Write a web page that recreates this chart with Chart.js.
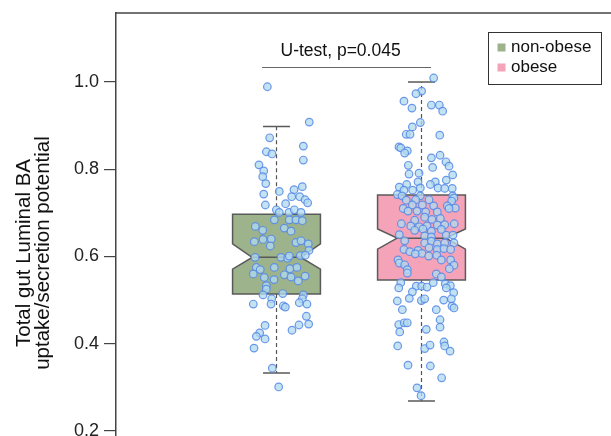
<!DOCTYPE html>
<html>
<head>
<meta charset="utf-8">
<script src="https://cdn.jsdelivr.net/npm/chart.js@4"></script>
<style>
  body { margin: 0; background: #fff; }
  canvas { display: block; }
</style>
</head>
<body>
<canvas id="chart" width="611" height="436"></canvas>
<script>
const groups = ['non-obese', 'obese'];
const boxColors = ['#9db38b', '#f4a3b8'];

// box summary
const boxQ1 = [0.514, 0.546];
const boxMedian = [0.598, 0.642];
const boxQ3 = [0.697, 0.741];
const notchLow = [0.571, 0.617];
const notchHigh = [0.629, 0.663];
const whiskerLow = [0.333, 0.269];
const whiskerHigh = [0.898, 1.0];

const yTicks = [0.2, 0.4, 0.6, 0.8, 1.0];
const yTitle = ['Total gut Luminal BA', 'uptake/secretion potential'];
const testLabel = 'U-test, p=0.045';

const nonObeseValues = [0.989,0.908,0.872,0.853,0.840,0.835,0.821,0.810,0.796,0.783,
  0.767,0.760,0.749,0.753,0.743,0.737,0.737,0.730,0.723,0.718,
  0.721,0.707,0.701,0.701,0.707,0.701,0.684,0.684,0.684,0.682,
  0.669,0.660,0.665,0.658,0.634,0.639,0.640,0.624,0.632,0.636,
  0.629,0.614,0.602,0.603,0.598,0.598,0.596,0.601,0.575,0.570,
  0.575,0.572,0.575,0.560,0.552,0.547,0.558,0.553,0.544,0.555,
  0.533,0.525,0.512,0.515,0.503,0.491,0.512,0.503,0.494,0.491,
  0.491,0.487,0.484,0.463,0.445,0.443,0.431,0.442,0.425,0.417,
  0.411,0.390,0.344,0.301];
const nonObeseJitter = [-0.063,0.226,-0.047,0.185,-0.070,-0.031,0.185,-0.121,-0.088,-0.095,
  -0.074,0.178,0.019,0.121,-0.088,0.105,0.160,0.197,0.215,-0.077,
  0.063,-0.001,0.019,0.086,0.123,0.169,-0.015,0.088,0.134,0.178,
  -0.146,-0.095,0.054,0.100,-0.153,-0.093,-0.036,-0.043,0.134,0.169,
  0.219,0.224,0.164,0.199,-0.148,0.031,0.077,0.088,-0.139,-0.112,
  -0.015,0.093,0.141,-0.160,-0.084,-0.017,0.054,0.100,0.150,0.197,
  -0.070,-0.070,-0.093,0.043,-0.033,-0.038,0.185,0.178,0.157,0.210,
  -0.160,0.047,0.061,0.206,0.222,0.155,0.107,-0.079,-0.116,-0.139,
  -0.079,-0.155,-0.029,0.015];

const obeseValues = [1.009,0.979,0.973,0.956,0.940,0.947,0.947,0.933,0.907,0.897,
  0.880,0.880,0.878,0.851,0.849,0.842,0.837,0.832,0.826,0.817,
  0.807,0.809,0.804,0.789,0.791,0.787,0.775,0.771,0.771,0.765,
  0.765,0.759,0.757,0.757,0.756,0.752,0.752,0.756,0.742,0.739,
  0.739,0.739,0.734,0.729,0.730,0.730,0.727,0.710,0.718,0.718,
  0.716,0.716,0.711,0.704,0.704,0.702,0.702,0.710,0.675,0.683,
  0.690,0.685,0.687,0.670,0.668,0.670,0.672,0.673,0.675,0.660,
  0.663,0.658,0.662,0.650,0.647,0.645,0.649,0.649,0.636,0.631,
  0.635,0.629,0.631,0.631,0.616,0.611,0.614,0.607,0.620,0.616,
  0.618,0.616,0.606,0.601,0.603,0.592,0.592,0.592,0.585,0.581,
  0.580,0.570,0.572,0.562,0.560,0.553,0.540,0.528,0.532,0.532,
  0.530,0.540,0.537,0.533,0.528,0.519,0.517,0.504,0.499,0.503,
  0.500,0.503,0.498,0.486,0.482,0.478,0.478,0.455,0.444,0.448,
  0.448,0.427,0.433,0.438,0.404,0.395,0.383,0.395,0.389,0.397,
  0.351,0.349,0.322,0.299,0.281];
const obeseJitter = [0.084,0.001,-0.038,-0.121,-0.066,0.068,0.123,0.146,-0.008,-0.063,
  -0.105,-0.079,0.126,-0.155,-0.143,-0.098,-0.116,0.128,0.068,0.169,
  0.190,-0.091,0.077,-0.086,-0.017,0.215,0.171,-0.024,0.095,0.061,
  -0.102,-0.153,-0.008,0.114,0.212,-0.121,-0.061,0.160,-0.167,-0.134,
  -0.008,0.215,0.224,-0.105,-0.040,0.052,0.208,-0.126,-0.063,0.006,
  0.084,0.178,0.233,-0.093,-0.031,0.029,0.109,0.190,-0.139,-0.047,
  0.022,0.072,0.130,-0.074,-0.015,0.038,0.109,0.160,0.226,-0.047,
  0.010,0.068,0.137,-0.153,0.022,0.068,0.171,0.217,-0.116,0.022,
  0.068,0.109,0.160,0.224,-0.121,-0.081,-0.024,0.003,0.052,0.109,
  0.155,0.201,-0.043,0.050,0.105,0.137,0.201,-0.162,-0.153,-0.116,
  0.224,-0.098,0.192,-0.098,0.102,0.137,-0.143,-0.157,-0.036,0.001,
  0.038,0.081,0.164,0.199,0.171,-0.063,0.222,-0.084,-0.001,0.022,
  0.153,0.206,-0.167,0.210,0.224,-0.132,0.102,0.128,-0.157,-0.119,
  -0.098,-0.150,0.033,0.128,0.155,0.160,0.197,-0.164,0.022,0.059,
  -0.093,0.061,0.139,-0.031,-0.003];

const FONT = '"Liberation Sans", Arial, Helvetica, sans-serif';
const EDGE = '#5a5a5a';
const BOX_HALF = 0.303;   // in category units
const NOTCH_IN = 0.135;
const CAP_HALF = 0.093;

function toPoints(values, jitter, pos) {
  return values.map((v, i) => ({ x: pos + jitter[i], y: v }));
}

// boxes, whiskers and caps under the points
const boxPlugin = {
  id: 'boxes',
  beforeDatasetsDraw(chart) {
    const { ctx, scales: { x, y } } = chart;
    ctx.save();
    groups.forEach((g, i) => {
      const l = x.getPixelForValue(i - BOX_HALF);
      const r = x.getPixelForValue(i + BOX_HALF);
      const li = x.getPixelForValue(i - BOX_HALF + NOTCH_IN);
      const ri = x.getPixelForValue(i + BOX_HALF - NOTCH_IN);
      const cx = x.getPixelForValue(i);
      const q1 = y.getPixelForValue(boxQ1[i]);
      const q3 = y.getPixelForValue(boxQ3[i]);
      const med = y.getPixelForValue(boxMedian[i]);
      const nl = y.getPixelForValue(notchLow[i]);
      const nh = y.getPixelForValue(notchHigh[i]);

      // whiskers
      ctx.strokeStyle = '#555';
      ctx.lineWidth = 1.2;
      ctx.setLineDash([4, 3]);
      ctx.beginPath();
      ctx.moveTo(cx, q3);
      ctx.lineTo(cx, y.getPixelForValue(whiskerHigh[i]));
      ctx.moveTo(cx, q1);
      ctx.lineTo(cx, y.getPixelForValue(whiskerLow[i]));
      ctx.stroke();
      ctx.setLineDash([]);
      ctx.lineWidth = 1.5;
      ctx.strokeStyle = EDGE;
      ctx.beginPath();
      [whiskerHigh[i], whiskerLow[i]].forEach(w => {
        const wy = y.getPixelForValue(w);
        ctx.moveTo(x.getPixelForValue(i - CAP_HALF), wy);
        ctx.lineTo(x.getPixelForValue(i + CAP_HALF), wy);
      });
      ctx.stroke();

      // notched box
      ctx.beginPath();
      ctx.moveTo(l, q3);
      ctx.lineTo(r, q3);
      ctx.lineTo(r, nh);
      ctx.lineTo(ri, med);
      ctx.lineTo(r, nl);
      ctx.lineTo(r, q1);
      ctx.lineTo(l, q1);
      ctx.lineTo(l, nl);
      ctx.lineTo(li, med);
      ctx.lineTo(l, nh);
      ctx.closePath();
      ctx.fillStyle = boxColors[i];
      ctx.fill();
      ctx.stroke();

      ctx.beginPath();
      ctx.moveTo(li, med);
      ctx.lineTo(ri, med);
      ctx.stroke();
    });
    ctx.restore();
  },
  afterDraw(chart) {
    const { ctx, chartArea, scales: { x } } = chart;
    ctx.save();
    // top frame line
    ctx.strokeStyle = '#444';
    ctx.lineWidth = 1.5;
    ctx.beginPath();
    ctx.moveTo(chartArea.left, chartArea.top);
    ctx.lineTo(chartArea.right, chartArea.top);
    ctx.stroke();

    // y axis title (two lines, rotated)
    ctx.save();
    ctx.translate(0, 253);
    ctx.rotate(-Math.PI / 2);
    ctx.fillStyle = '#111';
    ctx.font = '20.5px ' + FONT;
    ctx.textAlign = 'center';
    ctx.textBaseline = 'alphabetic';
    ctx.fillText(yTitle[0], 0, 30);
    ctx.fillText(yTitle[1], 0, 48.5);
    ctx.restore();

    // significance bar
    ctx.strokeStyle = '#666';
    ctx.lineWidth = 1;
    ctx.beginPath();
    ctx.moveTo(x.getPixelForValue(-0.1), 67.5);
    ctx.lineTo(x.getPixelForValue(1.066), 67.5);
    ctx.stroke();
    ctx.fillStyle = '#111';
    ctx.font = '17.5px ' + FONT;
    ctx.textAlign = 'center';
    ctx.textBaseline = 'middle';
    ctx.fillText(testLabel, x.getPixelForValue(0.442), 51);

    // legend
    ctx.strokeStyle = '#333';
    ctx.lineWidth = 1;
    ctx.strokeRect(488.5, 32.5, 113, 52);
    ctx.font = '17px ' + FONT;
    ctx.textAlign = 'left';
    groups.forEach((g, i) => {
      const cy = 47.5 + i * 20;
      ctx.fillStyle = boxColors[i];
      ctx.fillRect(497.5, cy - 4, 8, 8);
      ctx.fillStyle = '#111';
      ctx.fillText(g, 511, cy);
    });
    ctx.restore();
  }
};

const pointStyle = {
  backgroundColor: 'rgba(178,218,238,0.78)',
  borderColor: 'rgba(85,135,230,0.85)',
  borderWidth: 1.2,
  pointRadius: 3.8
};

new Chart(document.getElementById('chart'), {
  type: 'scatter',
  data: {
    datasets: [
      Object.assign({ label: groups[0], data: toPoints(nonObeseValues, nonObeseJitter, 0) }, pointStyle),
      Object.assign({ label: groups[1], data: toPoints(obeseValues, obeseJitter, 1) }, pointStyle)
    ]
  },
  options: {
    responsive: false,
    animation: false,
    devicePixelRatio: 1,
    layout: { autoPadding: false, padding: { top: 13, left: 0, right: 0, bottom: 0 } },
    plugins: { legend: { display: false }, tooltip: { enabled: false } },
    scales: {
      x: { type: 'linear', min: -1.107, max: 2.307, display: false },
      y: {
        type: 'linear',
        min: 0.1886,
        max: 1.158,
        afterBuildTicks: s => { s.ticks = yTicks.map(v => ({ value: v })); },
        afterFit: s => { s.width = 116; s.paddingTop = 0; s.paddingBottom = 0; },
        ticks: {
          padding: 5,
          color: '#222',
          font: { family: FONT, size: 18 },
          callback: v => v.toFixed(1)
        },
        grid: { drawOnChartArea: false, tickLength: 12, color: '#444', lineWidth: 1.2 },
        border: { color: '#444', width: 1.5 }
      }
    }
  },
  plugins: [boxPlugin]
});
</script>
</body>
</html>
